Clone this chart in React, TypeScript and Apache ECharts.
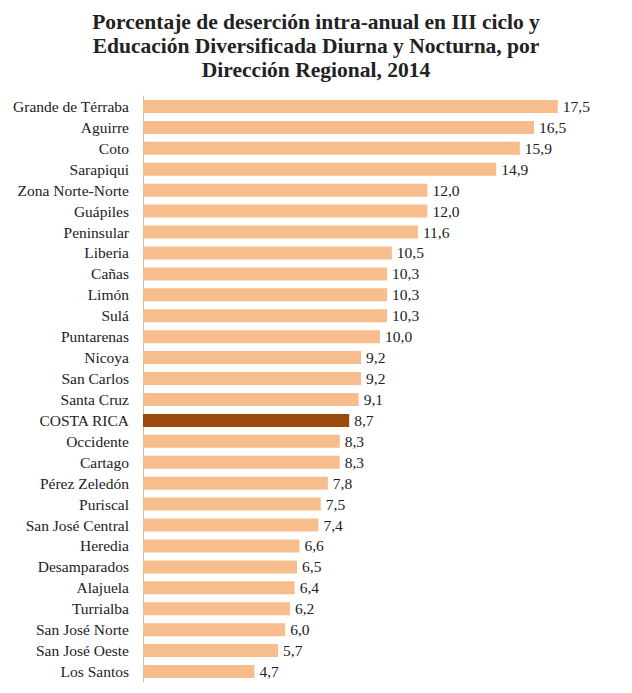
import React, { useEffect, useRef } from "react";
import * as echarts from "echarts";

const categories = [
  "Grande de Térraba", "Aguirre", "Coto", "Sarapiqui", "Zona Norte-Norte", "Guápiles",
  "Peninsular", "Liberia", "Cañas", "Limón", "Sulá", "Puntarenas", "Nicoya", "San Carlos",
  "Santa Cruz", "COSTA RICA", "Occidente", "Cartago", "Pérez Zeledón", "Puriscal",
  "San José Central", "Heredia", "Desamparados", "Alajuela", "Turrialba", "San José Norte",
  "San José Oeste", "Los Santos",
];
const values = [
  17.5, 16.5, 15.9, 14.9, 12.0, 12.0, 11.6, 10.5, 10.3, 10.3, 10.3, 10.0, 9.2, 9.2, 9.1,
  8.7, 8.3, 8.3, 7.8, 7.5, 7.4, 6.6, 6.5, 6.4, 6.2, 6.0, 5.7, 4.7,
];
const highlight = "COSTA RICA";
const titleLines = [
  "Porcentaje de deserción intra-anual en III ciclo y",
  "Educación Diversificada Diurna y Nocturna, por",
  "Dirección Regional, 2014",
];

export default function App() {
  const ref = useRef<HTMLDivElement>(null);
  useEffect(() => {
    if (!ref.current) return;
    const chart = echarts.init(ref.current, null, { renderer: "svg" });
    const font = "'Liberation Serif', 'DejaVu Serif', serif";
    chart.setOption({
      animation: false,
      backgroundColor: "#ffffff",
      title: {
        text: titleLines.join("\n"),
        left: "center",
        top: 5,
        textStyle: {
          fontFamily: font,
          fontSize: 21.5,
          fontWeight: "bold",
          color: "#222222",
          lineHeight: 24,
        },
      },
      grid: { left: 143, top: 96, width: 474, height: 586, containLabel: false },
      xAxis: {
        type: "value",
        min: 0,
        max: 20,
        show: false,
      },
      yAxis: {
        type: "category",
        data: categories,
        inverse: true,
        axisLine: { show: true, lineStyle: { color: "#bfbfbf", width: 1 } },
        axisTick: { show: false },
        axisLabel: {
          fontFamily: font,
          fontSize: 15.5,
          color: "#222222",
          margin: 14,
        },
      },
      series: [
        {
          type: "bar",
          barWidth: 13,
          data: values.map((v, i) => ({
            value: v,
            itemStyle: { color: categories[i] === highlight ? "#9a4a0c" : "#f7bd8c" },
          })),
          label: {
            show: true,
            position: "right",
            distance: 5,
            fontFamily: font,
            fontSize: 15.5,
            color: "#222222",
            formatter: (p: any) => p.value.toFixed(1).replace(".", ","),
          },
        },
      ],
    });
    return () => chart.dispose();
  }, []);
  return <div ref={ref} style={{ width: 632, height: 693, margin: -8 }} />;
}
